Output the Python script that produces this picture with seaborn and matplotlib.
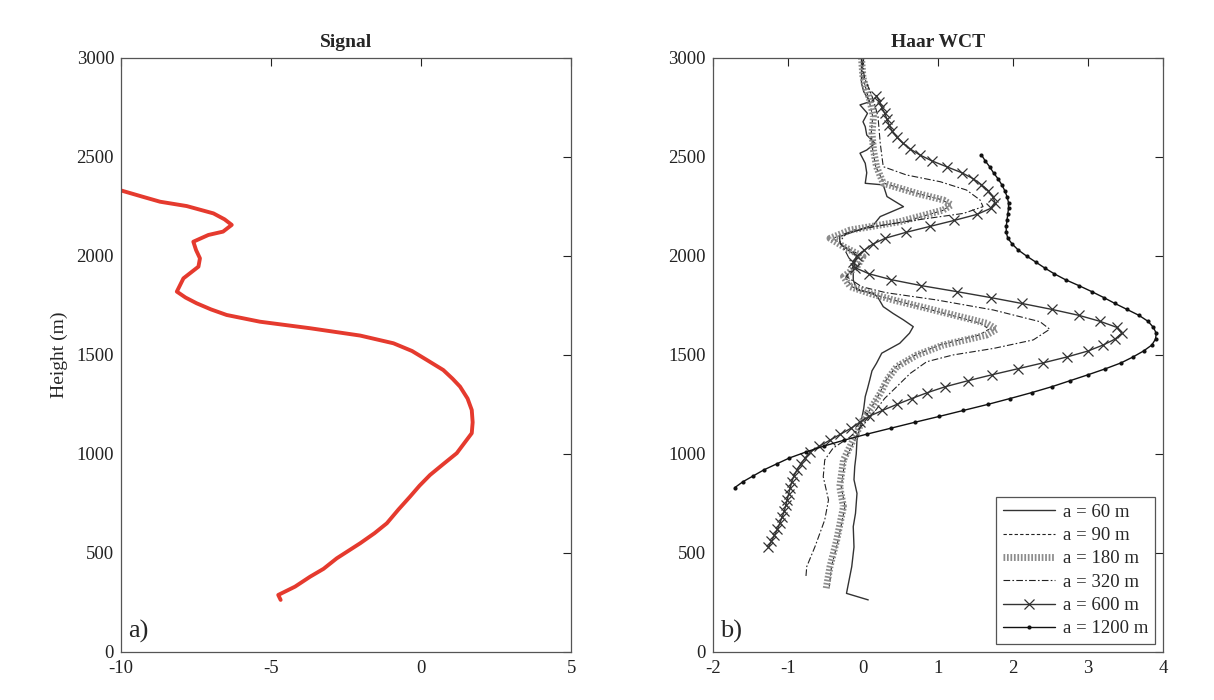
import numpy as np
import pandas as pd
import matplotlib
matplotlib.use("Agg")
import matplotlib.pyplot as plt
import seaborn as sns

# ---- Left panel: raw signal profile ----
signal_height = [2330, 2300, 2274, 2252, 2215, 2185, 2157, 2123, 2106, 2072, 2030, 1988, 1946,
                 1887, 1820, 1790, 1761, 1730, 1702, 1668, 1635, 1598, 1559, 1520, 1475, 1424,
                 1380, 1340, 1280, 1222, 1160, 1105, 1004, 950, 894, 840, 784, 720, 650, 600,
                 549, 473, 420, 380, 330, 288, 263]
signal_value = [-9.98, -9.30, -8.70, -7.81, -6.92, -6.55, -6.31, -6.60, -7.09, -7.59, -7.50,
                -7.37, -7.42, -7.92, -8.14, -7.85, -7.48, -7.00, -6.48, -5.37, -3.70, -2.03,
                -0.92, -0.30, 0.19, 0.74, 1.05, 1.30, 1.55, 1.69, 1.72, 1.69, 1.19, 0.75,
                0.30, -0.05, -0.37, -0.75, -1.14, -1.55, -2.03, -2.81, -3.25, -3.70, -4.20,
                -4.76, -4.68]

# ---- Right panel: Haar wavelet covariance transform at several dilations ----
wct60_height = [263, 296, 431, 530, 633, 700, 801, 870, 936, 1000, 1071, 1120, 1172, 1230,
                1290, 1330, 1374, 1420, 1458, 1509, 1559, 1610, 1643, 1677, 1710, 1744,
                1790, 1812, 1828, 1879, 1946, 1997, 2030, 2064, 2098, 2157, 2199, 2249,
                2300, 2359, 2367, 2420, 2468, 2519, 2535, 2569, 2611, 2653, 2678, 2720,
                2763, 2779, 2830, 2872, 3000]
wct60_value = [0.07, -0.22, -0.15, -0.12, -0.13, -0.10, -0.08, -0.12, -0.11, -0.09, -0.08, -0.05,
               -0.02, 0.01, 0.03, 0.06, 0.09, 0.12, 0.18, 0.25, 0.49, 0.62, 0.67, 0.54, 0.40,
               0.27, 0.20, 0.14, -0.08, -0.13, -0.13, -0.08, -0.20, -0.31, -0.31, 0.14, 0.23,
               0.54, 0.32, 0.27, 0.03, 0.05, 0.03, -0.04, 0.05, 0.16, 0.05, 0.03, 0.00, 0.06,
               -0.04, 0.09, 0.01, -0.02, -0.02]

wct90_height = [330, 431, 566, 734, 835, 970, 1071, 1172, 1240, 1306, 1374, 1441, 1500, 1550,
                1601, 1630, 1660, 1694, 1736, 1778, 1810, 1845, 1896, 1946, 1997, 2047, 2089,
                2131, 2173, 2232, 2258, 2283, 2316, 2367, 2451, 2535, 2620, 2704, 2788, 2900, 3000]
wct90_value = [-0.45, -0.42, -0.33, -0.24, -0.29, -0.24, -0.11, 0.01, 0.12, 0.22, 0.31, 0.44,
               0.70, 1.02, 1.55, 1.68, 1.57, 1.24, 0.83, 0.40, 0.10, -0.15, -0.24, -0.08, 0.00,
               -0.24, -0.40, -0.12, 0.55, 1.08, 1.16, 1.06, 0.72, 0.28, 0.17, 0.13, 0.11, 0.13,
               0.08, 0.00, -0.02]

wct180_height = [322, 431, 566, 734, 835, 970, 1071, 1172, 1240, 1306, 1374, 1441, 1500, 1550,
                 1601, 1630, 1660, 1694, 1736, 1778, 1810, 1845, 1896, 1946, 1997, 2047, 2089,
                 2131, 2173, 2232, 2258, 2283, 2316, 2367, 2451, 2535, 2620, 2704, 2788, 2900, 3000]
wct180_value = [-0.49, -0.44, -0.35, -0.26, -0.31, -0.26, -0.13, 0.00, 0.12, 0.23, 0.32, 0.45,
                0.72, 1.07, 1.65, 1.78, 1.65, 1.29, 0.85, 0.40, 0.10, -0.17, -0.26, -0.08, 0.00,
                -0.26, -0.44, -0.17, 0.49, 1.07, 1.18, 1.07, 0.72, 0.27, 0.18, 0.14, 0.12, 0.14,
                0.09, 0.00, -0.02]

wct320_height = [384, 431, 532, 667, 768, 885, 970, 1029, 1087, 1172, 1281, 1340, 1407, 1466,
                 1500, 1533, 1576, 1630, 1668, 1727, 1778, 1815, 1845, 1896, 1946, 2014, 2072,
                 2115, 2148, 2182, 2215, 2249, 2283, 2333, 2375, 2409, 2451, 2569, 2704, 2788,
                 2900, 3000]
wct320_value = [-0.76, -0.75, -0.64, -0.51, -0.46, -0.53, -0.51, -0.40, -0.17, 0.07, 0.29, 0.45,
                0.63, 0.85, 1.20, 1.74, 2.27, 2.49, 2.36, 1.74, 0.98, 0.30, -0.02, -0.22, -0.13,
                -0.22, -0.31, -0.22, 0.14, 0.72, 1.34, 1.60, 1.56, 1.38, 1.03, 0.58, 0.27, 0.23,
                0.20, 0.14, 0.02, -0.02]

# dilations of 600 m and 1200 m are sampled every 30 m
wct600_height = np.arange(530, 2811, 30)
wct600_value = [-1.26, -1.22, -1.18, -1.14, -1.11, -1.08, -1.05, -1.03, -1.01, -0.99,
                -0.97, -0.95, -0.92, -0.88, -0.83, -0.77, -0.70, -0.58, -0.44, -0.30,
                -0.16, -0.04, 0.08, 0.26, 0.45, 0.65, 0.86, 1.10, 1.40, 1.72,
                2.06, 2.40, 2.72, 3.00, 3.20, 3.36,
                3.45, 3.38, 3.16, 2.88, 2.52, 2.12, 1.70, 1.25, 0.78, 0.38,
                0.08, -0.10, -0.13, -0.08, 0.02, 0.13, 0.30, 0.58, 0.90, 1.22,
                1.52, 1.70, 1.76, 1.73, 1.67, 1.58, 1.47, 1.32, 1.12, 0.92,
                0.76, 0.63, 0.53, 0.45, 0.39, 0.35, 0.32, 0.29, 0.25, 0.22, 0.18]

wct1200_height = np.arange(830, 2511, 30)
wct1200_value = [-1.71, -1.60, -1.46, -1.32, -1.15, -0.98, -0.76, -0.52, -0.25, 0.05,
                 0.37, 0.69, 1.02, 1.34, 1.66, 1.96, 2.25, 2.52, 2.76, 3.00,
                 3.23, 3.44, 3.60, 3.74, 3.85, 3.90,
                 3.91, 3.87, 3.80, 3.68, 3.52, 3.36, 3.21, 3.05, 2.88, 2.70,
                 2.55, 2.42, 2.30, 2.18, 2.07, 1.99, 1.93, 1.91, 1.91, 1.92,
                 1.93, 1.94, 1.94, 1.92, 1.89, 1.85, 1.80, 1.74, 1.69, 1.63, 1.58]

sns.set_theme(style="white")
plt.rcParams["font.family"] = ["Liberation Serif", "DejaVu Serif"]
plt.rcParams["axes.linewidth"] = 0.9
plt.rcParams["axes.unicode_minus"] = False

fig = plt.figure(figsize=(12.14, 7.0), dpi=100)
ax1 = fig.add_axes([0.0997, 0.0686, 0.3707, 0.8486])
ax2 = fig.add_axes([0.5873, 0.0686, 0.3707, 0.8486])

sig = pd.DataFrame({"value": signal_value, "height": signal_height})
sns.lineplot(data=sig, x="value", y="height", sort=False, estimator=None,
             color="#e53a2e", linewidth=2.8, ax=ax1)

series = [
    ("a = 60 m", wct60_height, wct60_value,
     dict(color="#333333", linewidth=1.0, linestyle="-")),
    ("a = 90 m", wct90_height, wct90_value,
     dict(color="#222222", linewidth=0.8, linestyle=(0, (3, 2)))),
    ("a = 180 m", wct180_height, wct180_value,
     dict(color="#8c8c8c", linewidth=5.0, linestyle=(0, (0.25, 0.25)))),
    ("a = 320 m", wct320_height, wct320_value,
     dict(color="#222222", linewidth=0.8, linestyle=(0, (6, 2, 1.5, 2)))),
    ("a = 600 m", wct600_height, wct600_value,
     dict(color="#333333", linewidth=1.0, linestyle="-", marker="x",
          markersize=6.5, markeredgewidth=0.9, markeredgecolor="#333333")),
    ("a = 1200 m", wct1200_height, wct1200_value,
     dict(color="#111111", linewidth=1.0, linestyle="-", marker="o",
          markersize=3.0, markeredgewidth=0, markerfacecolor="#111111")),
]
for label, h, v, style in series:
    df = pd.DataFrame({"value": v, "height": h})
    sns.lineplot(data=df, x="value", y="height", sort=False, estimator=None,
                 label=label, ax=ax2, **style)

tick_font = 13.5
for ax, xlim, xticks in [(ax1, (-10, 5), [-10, -5, 0, 5]),
                         (ax2, (-2, 4), [-2, -1, 0, 1, 2, 3, 4])]:
    ax.set_xlim(*xlim)
    ax.set_ylim(0, 3000)
    ax.set_xticks(xticks)
    ax.set_yticks(range(0, 3001, 500))
    ax.tick_params(direction="in", length=6, width=0.8, top=True, right=True,
                   labelsize=tick_font, colors="#222222")
    ax.tick_params(axis="x", pad=6)
    ax.tick_params(axis="y", pad=5)
    ax.set_xlabel("")
    ax.set_ylabel("")
    for s in ax.spines.values():
        s.set_color("#555555")
        s.set_visible(True)

ax1.set_ylabel("Height (m)", fontsize=14, labelpad=6)
ax1.set_title("Signal", fontsize=14, fontweight="bold", pad=8)
ax2.set_title("Haar WCT", fontsize=14, fontweight="bold", pad=8)

ax1.text(0.015, 0.015, "a)", transform=ax1.transAxes, fontsize=19, ha="left", va="bottom")
ax2.text(0.015, 0.015, "b)", transform=ax2.transAxes, fontsize=19, ha="left", va="bottom")

leg = ax2.legend(loc="lower right", bbox_to_anchor=(0.982, 0.0135), borderaxespad=0,
                 fontsize=13.5, frameon=True, fancybox=False, edgecolor="#555555",
                 framealpha=1, handlelength=2.8, handletextpad=0.4, borderpad=0.35,
                 labelspacing=0.33)
leg.get_frame().set_linewidth(0.9)

fig.savefig("out.png", dpi=100, facecolor="white")
